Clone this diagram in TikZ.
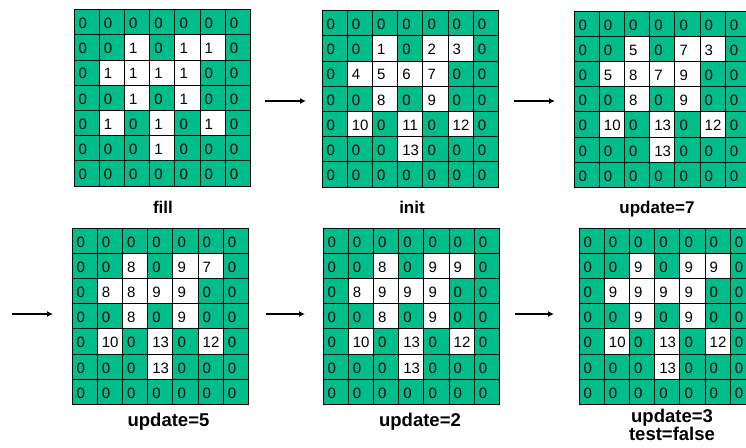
\documentclass[tikz,border=0pt]{standalone}
\usepackage{fontspec}
\setmainfont{Liberation Sans}
\usetikzlibrary{arrows.meta}
\definecolor{tg}{RGB}{0,190,140}
\tikzset{
  gridcell/.style={draw=black, line width=0.8pt},
  num/.style={font=\fontsize{15}{15}\selectfont, anchor=base west, inner sep=0pt},
  labA/.style={font=\bfseries\fontsize{17}{17}\selectfont, anchor=base, inner sep=0pt},
  labB/.style={font=\bfseries\fontsize{18.5}{16.7}\selectfont, anchor=base, inner sep=0pt, align=center},
  arr/.style={-{Latex[length=6pt,width=6pt]}, line width=1.5pt},
  gridbox/.style={draw=none, minimum width=176.4pt, minimum height=176.4pt, inner sep=0pt, anchor=north west}
}
\newcommand\gridat[4]{%
  \node[gridbox] (#1) at (#2,#3) {};
  \foreach \v [count=\k from 0] in {#4} {
    \pgfmathtruncatemacro\rr{int(\k/7)}
    \pgfmathtruncatemacro\cc{mod(\k,7)}
    \ifnum\v=0 \def\fc{tg}\else\def\fc{white}\fi
    \path[gridcell, fill=\fc] (#2+\cc*25.2, #3+\rr*25.2) rectangle ++(25.2,25.2);
    \node[num] (#1-\rr-\cc) at (#2+\cc*25.2+4.5, #3+\rr*25.2+19) {\v};
  }
}
\begin{document}
\begin{tikzpicture}[x=1pt, y=-1pt]
\useasboundingbox (0,0) rectangle (746,447);
\clip (0,0) rectangle (746,447);
\fill[white] (0,0) rectangle (746,447);
% row 1
\gridat{gA}{74}{9.5}{0,0,0,0,0,0,0, 0,0,1,0,1,1,0, 0,1,1,1,1,0,0, 0,0,1,0,1,0,0, 0,1,0,1,0,1,0, 0,0,0,1,0,0,0, 0,0,0,0,0,0,0}
\gridat{gB}{322}{10.5}{0,0,0,0,0,0,0, 0,0,1,0,2,3,0, 0,4,5,6,7,0,0, 0,0,8,0,9,0,0, 0,10,0,11,0,12,0, 0,0,0,13,0,0,0, 0,0,0,0,0,0,0}
\gridat{gC}{574}{11}{0,0,0,0,0,0,0, 0,0,5,0,7,3,0, 0,5,8,7,9,0,0, 0,0,8,0,9,0,0, 0,10,0,13,0,12,0, 0,0,0,13,0,0,0, 0,0,0,0,0,0,0}
% row 2
\gridat{gD}{72}{228}{0,0,0,0,0,0,0, 0,0,8,0,9,7,0, 0,8,8,9,9,0,0, 0,0,8,0,9,0,0, 0,10,0,13,0,12,0, 0,0,0,13,0,0,0, 0,0,0,0,0,0,0}
\gridat{gE}{323}{228}{0,0,0,0,0,0,0, 0,0,8,0,9,9,0, 0,8,9,9,9,0,0, 0,0,8,0,9,0,0, 0,10,0,13,0,12,0, 0,0,0,13,0,0,0, 0,0,0,0,0,0,0}
\gridat{gF}{579}{228}{0,0,0,0,0,0,0, 0,0,9,0,9,9,0, 0,9,9,9,9,0,0, 0,0,9,0,9,0,0, 0,10,0,13,0,12,0, 0,0,0,13,0,0,0, 0,0,0,0,0,0,0}
% labels
\node[labA] (lA) at (163,213) {fill};
\node[labA] (lB) at (412,213) {init};
\node[labA] (lC) at (657,213) {update=7};
\node[labB] (lD) at (168.5,426) {update=5};
\node[labB] (lE) at (420,426) {update=2};
\node[labB, anchor=north] (lF) at (672,409) {update=3\\test=false};
% arrows
\coordinate (a1s) at (265,101); \coordinate (a1e) at (306,101);
\coordinate (a2s) at (514,101); \coordinate (a2e) at (555,101);
\coordinate (a3s) at (12,314);  \coordinate (a3e) at (53,314);
\coordinate (a4s) at (266,314); \coordinate (a4e) at (305,314);
\coordinate (a5s) at (515,314); \coordinate (a5e) at (554,314);
\draw[arr] (a1s) -- (a1e);
\draw[arr] (a2s) -- (a2e);
\draw[arr] (a3s) -- (a3e);
\draw[arr] (a4s) -- (a4e);
\draw[arr] (a5s) -- (a5e);
\end{tikzpicture}
\end{document}
